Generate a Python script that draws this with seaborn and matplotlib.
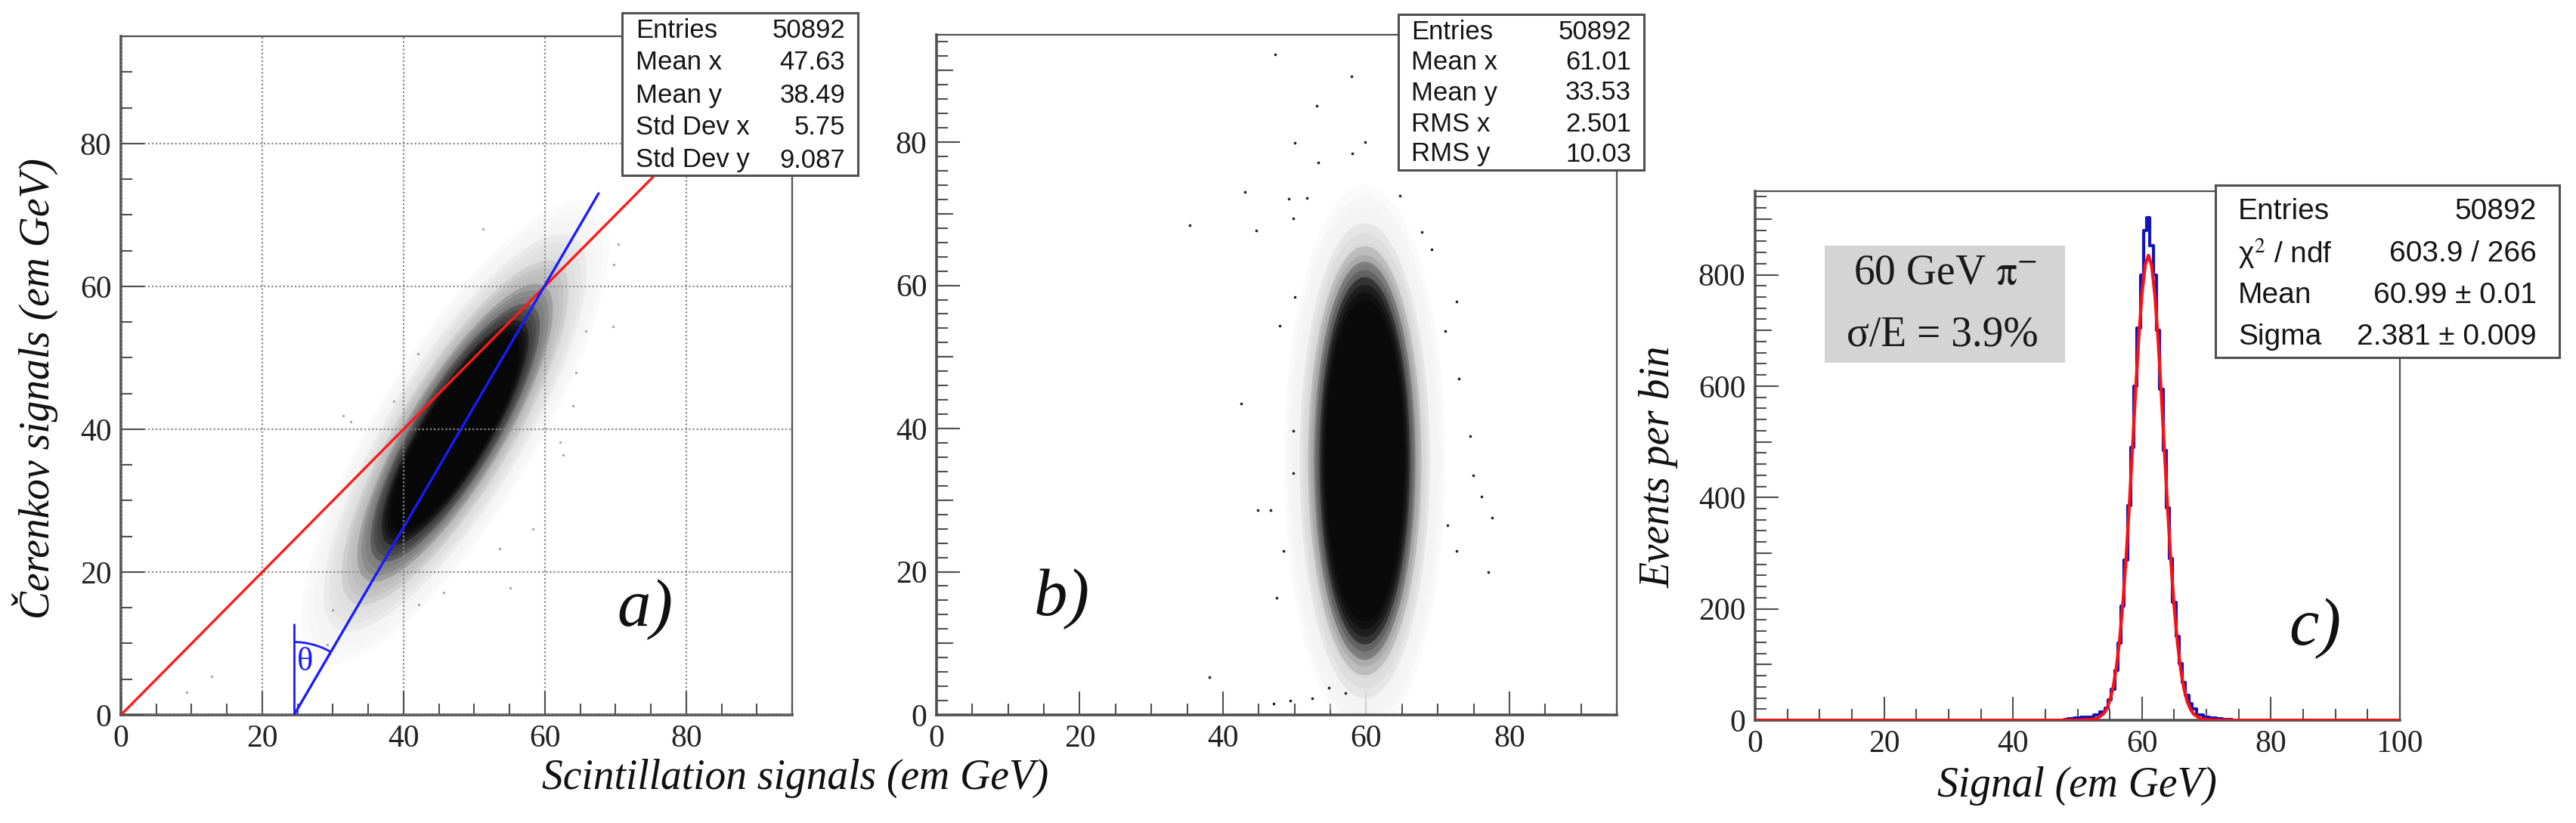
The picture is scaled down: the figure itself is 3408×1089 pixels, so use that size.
import matplotlib
matplotlib.use('Agg')
import matplotlib.pyplot as plt
from matplotlib.patches import Ellipse, Rectangle, Arc
from matplotlib.ticker import MultipleLocator
import seaborn as sns

# ---------------- values ----------------
# panel a) Cerenkov vs scintillation: density of the event cloud as nested contours
cloud_a_center = [47.3, 39.5]
cloud_a_angle = 58.5
cloud_a_major = [35, 30, 26, 22.5, 19.5, 17]
cloud_a_minor = [10.5, 8.8, 7.4, 6.3, 5.4, 4.6]
cloud_a_grey = ['#f4f4f4', '#dcdcdc', '#b4b4b4', '#707070', '#303030', '#000000']

# isolated events visible around the cloud
outliers_a_x = [31.4, 32.5, 38.6, 42.0, 62.2, 64.4, 65.8, 62.6, 55.1, 45.7, 42.2,
                30.0, 29.2, 58.3, 53.6, 12.8, 9.3, 51.2, 69.7, 70.4, 69.6, 64.0]
outliers_a_y = [41.9, 41.0, 43.9, 50.6, 38.2, 47.9, 53.7, 36.4, 17.8, 17.1, 15.4,
                14.7, 9.8, 26.0, 23.3, 5.4, 3.2, 68.0, 63.1, 65.9, 54.4, 43.3]

diag_x = [0, 95]
diag_y = [0, 95]
fit_line_x = [24.5, 67.6]
fit_line_y = [0, 73.0]
theta_ref_x = [24.5, 24.5]
theta_ref_y = [0, 12.7]

stats_a_labels = ['Entries', 'Mean x', 'Mean y', 'Std Dev x', 'Std Dev y']
stats_a_values = ['50892', '47.63', '38.49', '5.75', '9.087']

# panel b) same events after correction
cloud_b_center = [59.8, 35.5]
cloud_b_major = [36, 31, 28, 26, 24]
cloud_b_minor = [10.5, 8.5, 7.4, 6.6, 5.9]
cloud_b_grey = ['#f2f2f2', '#d0d0d0', '#909090', '#404040', '#000000']

outliers_b_x = [47.3, 57.9, 53.1, 50.0, 59.8, 58.1, 53.3, 43.1, 35.4, 44.6, 49.2,
                51.7, 49.8, 64.7, 67.8, 69.1, 72.6, 71.0, 72.9, 74.5, 74.9, 76.1,
                77.6, 77.1, 42.5, 44.9, 46.7, 38.1, 48.5, 47.5, 49.4, 47.1, 47.9,
                50.0, 49.8, 49.8, 71.4, 72.6, 54.8, 52.5, 57.1]
outliers_b_y = [92.3, 89.2, 85.1, 79.9, 80.0, 78.4, 77.2, 73.0, 68.4, 67.7, 72.1,
                72.2, 69.3, 72.5, 67.5, 65.0, 57.7, 53.6, 47.0, 39.0, 33.5, 30.5,
                27.6, 19.9, 43.5, 28.6, 28.6, 5.3, 22.9, 16.4, 2.0, 1.6, 54.4,
                58.4, 33.8, 39.7, 26.5, 22.9, 3.8, 2.3, 3.1]

stats_b_labels = ['Entries', 'Mean x', 'Mean y', 'RMS x', 'RMS y']
stats_b_values = ['50892', '61.01', '33.53', '2.501', '10.03']

# panel c) signal distribution (blue histogram) and gaussian fit (red)
hist_x = [48, 49, 50, 51, 52, 53, 54, 54.5, 55, 55.5, 56, 56.5, 57, 57.5, 58, 58.5,
          59, 59.5, 60, 60.5, 61, 61.5, 62, 62.5, 63, 63.5, 64, 64.5, 65, 65.5,
          66, 66.5, 67, 67.5, 68, 69, 70, 71, 72, 73, 74]
hist_y = [2, 3, 4, 5, 6, 9, 15, 22, 36, 56, 90, 138, 205, 288, 385, 490,
          600, 705, 800, 880, 902, 852, 800, 700, 595, 485, 382, 290, 212, 150,
          102, 68, 45, 30, 20, 10, 6, 4, 3, 2, 1]
fit_x = [0, 50, 52, 53, 54, 54.5, 55, 55.5, 56, 56.5, 57, 57.5, 58, 58.5, 59, 59.5,
         60, 60.5, 61, 61.5, 62, 62.5, 63, 63.5, 64, 64.5, 65, 65.5, 66, 66.5,
         67, 67.5, 68, 69, 70, 72, 100]
fit_y = [0, 0, 1, 3, 11, 20, 35, 58, 93, 141, 205, 285, 379, 483, 589, 686,
         766, 817, 835, 816, 763, 683, 585, 479, 375, 282, 202, 139, 91, 57,
         34, 20, 11, 3, 1, 0, 0]

stats_c_labels = ['Entries', 'χ$^2$ / ndf', 'Mean', 'Sigma']
stats_c_values = ['50892', '603.9 / 266', '60.99 ± 0.01', '2.381 ± 0.009']

# ---------------- figure ----------------
W, H = 3408, 1089
sns.set_theme(style='white')
plt.rcParams['font.family'] = ['Liberation Serif', 'DejaVu Serif']
plt.rcParams['mathtext.fontset'] = 'stix'

fig = plt.figure(figsize=(W / 100, H / 100), dpi=100)


def box(l, t, r, b):
    return [l / W, 1 - b / H, (r - l) / W, (b - t) / H]


ax_a = fig.add_axes(box(160, 48, 1048, 946))
ax_b = fig.add_axes(box(1239, 46, 2139, 946))
ax_c = fig.add_axes(box(2322, 253, 3175, 953))

EDGE = '#505050'


def root_style(ax, xmax, ymax, ymajor, xminor, yminor, ymid=None):
    ax.set_xlim(0, xmax)
    ax.set_ylim(0, ymax)
    ax.xaxis.set_major_locator(MultipleLocator(20))
    ax.xaxis.set_minor_locator(MultipleLocator(xminor))
    ax.yaxis.set_major_locator(MultipleLocator(ymajor))
    ax.yaxis.set_minor_locator(MultipleLocator(yminor))
    ax.tick_params(which='major', direction='in', length=22, width=1.5, color=EDGE,
                   labelsize=30, labelcolor='#222222', pad=9,
                   bottom=True, left=True, top=False, right=False)
    ax.tick_params(which='minor', direction='in', length=11, width=1.5, color=EDGE,
                   bottom=True, left=True, top=False, right=False)
    for side, sp in ax.spines.items():
        sp.set_color(EDGE)
        sp.set_linewidth(2.6 if side in ('left', 'bottom') else 1.6)
    if ymid is not None:
        sec = ax.secondary_yaxis('left')
        sec.yaxis.set_major_locator(MultipleLocator(ymid))
        sec.tick_params(direction='in', length=16, width=1.5, color=EDGE,
                        labelleft=False)
        sec.spines['left'].set_visible(False)
    ax.set_xlabel('')
    ax.set_ylabel('')


def soft_cloud(ax, center, majors, minors, greys, angle):
    # each density contour drawn as a few slightly scaled translucent copies
    for a_, b_, g in zip(majors, minors, greys):
        for f in (1.07, 1.025, 0.98, 0.935):
            ax.add_patch(Ellipse(center, 2 * a_ * f, 2 * b_ * f, angle=angle,
                                 facecolor=g, edgecolor='none', alpha=0.38,
                                 zorder=1))


def stats_box(l, t, r, b, labels, values, rows, lab_x, val_x, size, family):
    fig.add_artist(Rectangle((l / W, 1 - b / H), (r - l) / W, (b - t) / H,
                             transform=fig.transFigure, facecolor='white',
                             edgecolor=EDGE, linewidth=2.2, zorder=5))
    for lab, val, y in zip(labels, values, rows):
        fig.text(lab_x / W, 1 - y / H, lab, ha='left', va='center', fontsize=size,
                 family=family, color='#151515', zorder=6)
        fig.text(val_x / W, 1 - y / H, val, ha='right', va='center', fontsize=size,
                 family=family, color='#151515', zorder=6)


# ---- panel a ----
soft_cloud(ax_a, cloud_a_center, cloud_a_major, cloud_a_minor, cloud_a_grey,
           cloud_a_angle)
sns.scatterplot(x=outliers_a_x, y=outliers_a_y, ax=ax_a, color='#a8a8a8', s=6,
                linewidth=0, zorder=1.5)
ax_a.grid(True, which='major', color='#8a8a8a', linestyle=(0, (1, 1.3)), linewidth=1.6)
ax_a.set_axisbelow(False)
sns.lineplot(x=diag_x, y=diag_y, ax=ax_a, color='#ff1a1a', linewidth=2.4,
             estimator=None, sort=False, zorder=3)
sns.lineplot(x=fit_line_x, y=fit_line_y, ax=ax_a, color='#1a1aff', linewidth=2.4,
             estimator=None, sort=False, zorder=3)
sns.lineplot(x=theta_ref_x, y=theta_ref_y, ax=ax_a, color='#1a1aff', linewidth=2.0,
             estimator=None, sort=False, zorder=3)
ax_a.add_patch(Arc((fit_line_x[0], 0), 20.6, 20.4, theta1=59.6, theta2=90,
                   color='#1a1aff', linewidth=2.0, zorder=3))
ax_a.text(0.274, 0.078, 'θ', transform=ax_a.transAxes, fontsize=32, color='#1a1aff',
          ha='center', va='center')
ax_a.text(0.781, 0.155, 'a)', transform=ax_a.transAxes, fontsize=64, style='italic',
          ha='center', va='center', color='#111111')
root_style(ax_a, 95, 95, 20, 5, 5)

# ---- panel b ----
soft_cloud(ax_b, cloud_b_center, cloud_b_major, cloud_b_minor, cloud_b_grey, 90)
sns.scatterplot(x=outliers_b_x, y=outliers_b_y, ax=ax_b, color='#202020', s=7,
                linewidth=0, zorder=2)
ax_b.text(0.184, 0.171, 'b)', transform=ax_b.transAxes, fontsize=64, style='italic',
          ha='center', va='center', color='#111111')
root_style(ax_b, 95, 95, 20, 5, 2, ymid=10)

# ---- panel c ----
sns.lineplot(x=hist_x, y=hist_y, ax=ax_c, color='#1515b5', linewidth=3.0,
             drawstyle='steps-mid', estimator=None, sort=False, zorder=2)
sns.lineplot(x=fit_x, y=fit_y, ax=ax_c, color='#ff1010', linewidth=3.0,
             estimator=None, sort=False, zorder=3)
ax_c.text(0.868, 0.173, 'c)', transform=ax_c.transAxes, fontsize=64, style='italic',
          ha='center', va='center', color='#111111')
root_style(ax_c, 100, 950, 200, 5, 20, ymid=100)
for ax in (ax_a, ax_b, ax_c):
    if ax.get_legend() is not None:
        ax.get_legend().remove()

# grey info box of panel c
fig.add_artist(Rectangle((2414 / W, 1 - 480 / H), (2732 - 2414) / W, (480 - 325) / H,
                         transform=fig.transFigure, facecolor='#d4d4d4',
                         edgecolor='none', zorder=4))
fig.text(2573 / W, 1 - 362 / H, r'60 GeV $\mathrm{\pi}^{-}$', ha='center', va='center',
         fontsize=40, color='#1a1a1a', zorder=6)
fig.text(2570 / W, 1 - 443 / H, 'σ/E = 3.9%', ha='center', va='center',
         fontsize=40, color='#1a1a1a', zorder=6)

# statistics boxes
sans = ['Liberation Sans', 'DejaVu Sans']
stats_box(823, 17, 1135, 232, stats_a_labels, stats_a_values,
          [40, 83, 126, 169, 212], 841, 1118, 25, sans)
stats_box(1850, 19, 2175, 225, stats_b_labels, stats_b_values,
          [42, 82, 123, 164, 204], 1867, 2158, 25, sans)
stats_box(2931, 245, 3386, 473, stats_c_labels, stats_c_values,
          [280, 336, 391, 446], 2961, 3356, 28, sans)

# axis titles
fig.text(46 / W, 1 - 514 / H, 'Čerenkov signals (em GeV)', rotation=90,
         ha='center', va='center', fontsize=40, style='italic', color='#111111')
fig.text(1052 / W, 1 - 1030 / H, 'Scintillation signals (em GeV)',
         ha='center', va='center', fontsize=40, style='italic', color='#111111')
fig.text(2195 / W, 1 - 618 / H, 'Events per bin', rotation=90,
         ha='center', va='center', fontsize=40, style='italic', color='#111111')
fig.text(2748 / W, 1 - 1040 / H, 'Signal (em GeV)',
         ha='center', va='center', fontsize=40, style='italic', color='#111111')

fig.savefig('out.png', dpi=100, facecolor='white')
